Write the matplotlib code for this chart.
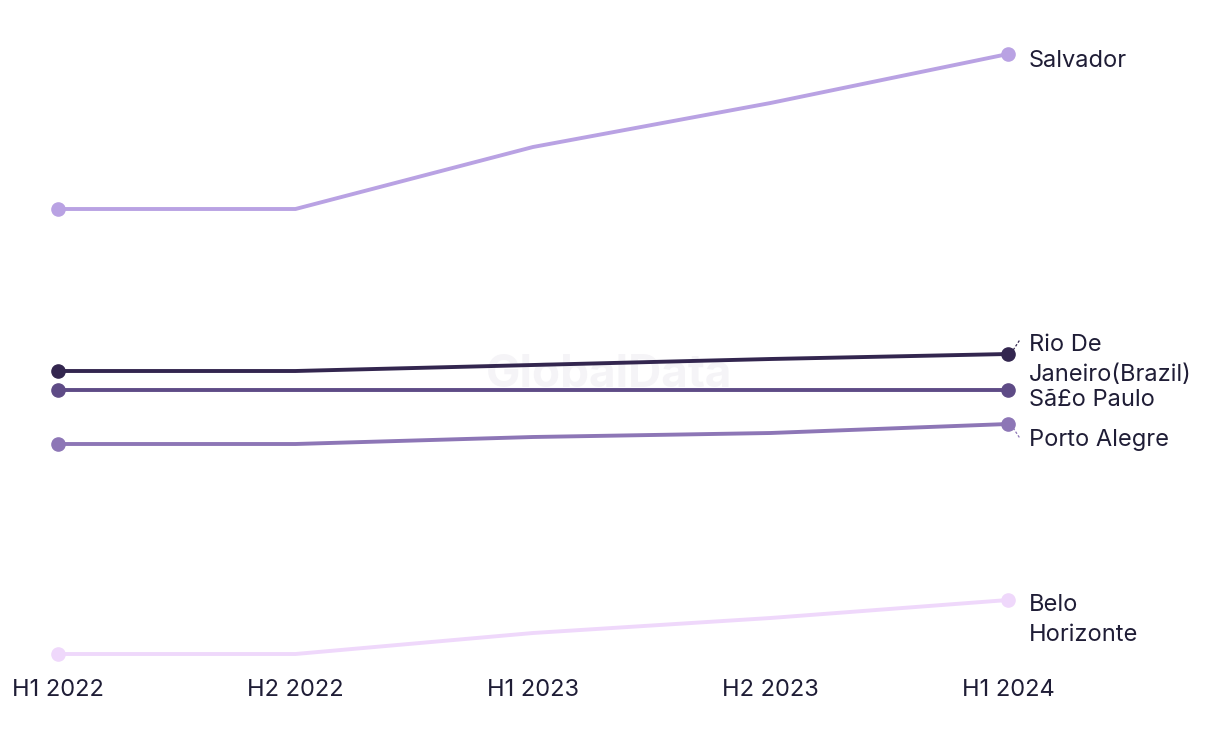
import matplotlib.pyplot as plt

periods = ['H1 2022', 'H2 2022', 'H1 2023', 'H2 2023', 'H1 2024']
cities = ['Salvador', 'Rio De\nJaneiro(Brazil)', 'Sã£o Paulo', 'Porto Alegre', 'Belo\nHorizonte']
salvador = [49.1, 49.1, 55.3, 59.7, 64.6]
rio = [32.9, 32.9, 33.5, 34.1, 34.6]
sao_paulo = [31.0, 31.0, 31.0, 31.0, 31.0]
porto_alegre = [25.6, 25.6, 26.3, 26.7, 27.6]
belo_horizonte = [4.6, 4.6, 6.7, 8.2, 10.0]

series = [salvador, rio, sao_paulo, porto_alegre, belo_horizonte]
colors = ['#b9a2e3', '#33264f', '#5e4b86', '#8d76b6', '#efd8fb']
# label anchor (value units) for the right side text, and leader direction (0 = none)
label_y = [63.9, 34.0, 30.0, 26.0, 8.0]
leader = [0, 1, 0, -1, 0]
text_color = '#1f1d36'

W, H = 1220, 744
fig = plt.figure(figsize=(W / 100, H / 100), dpi=100)
ax = fig.add_axes([58 / W, (H - 654) / H, 950 / W, 600 / H])
ax.set_xlim(0, 4)
ax.set_ylim(4.6, 64.6)

x = list(range(len(periods)))
for vals, c in zip(series, colors):
    ax.plot(x, vals, color=c, lw=2.8, clip_on=False, solid_capstyle='round')
    # markers only on first and last point
    ax.plot([x[0], x[-1]], [vals[0], vals[-1]], 'o', color=c, ms=9.5,
            clip_on=False)

for name, vals, ly, ld, c in zip(cities, series, label_y, leader, colors):
    ax.text(4.088, ly, name, fontsize=17, color=text_color, family='Inter',
            va='center', ha='left', linespacing=1.45)
    if ld:
        ax.plot([4.022, 4.052], [vals[-1] + ld * 0.4, vals[-1] + ld * 1.5],
                color=c, lw=0.9, ls=(0, (2, 1.5)), clip_on=False)

ax.text(2.32, 32.5, 'GlobalData', fontsize=33, fontweight='bold',
        color='#f5f4f7', ha='center', va='center', zorder=0, family='Inter')

ax.set_xticks(x)
ax.set_xticklabels(periods, fontsize=17, color=text_color, family='Inter')
ax.tick_params(axis='x', length=0, pad=18)
ax.set_yticks([])
for s in ax.spines.values():
    s.set_visible(False)

fig.savefig('out.png', dpi=100)
